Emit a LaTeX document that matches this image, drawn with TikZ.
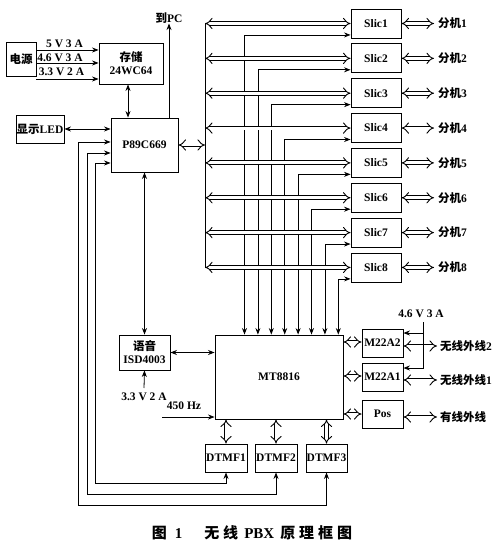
\documentclass[tikz,border=0pt]{standalone}
\usepackage{fontspec}
\setmainfont{Liberation Serif}
\newfontfamily\cjk{Noto Sans CJK SC}
\usetikzlibrary{arrows.meta,calc}
\begin{document}
\begin{tikzpicture}[x=1pt,y=-1pt,
  box/.style={draw, line width=0.9pt, inner sep=0pt, align=center, font=\bfseries\fontsize{11.5}{13}\selectfont},
  lbl/.style={inner sep=0pt, align=center, font=\bfseries\fontsize{11.5}{12}\selectfont},
  ln/.style={line width=0.8pt},
  arr/.style={ln, -{Stealth[length=6.5pt,width=5pt]}},
  both/.style={ln, {Stealth[length=6.5pt,width=5pt]}-{Stealth[length=6.5pt,width=5pt]}},
  dbl/.style={line width=0.9pt, double, double distance=3pt, {Implies[scale=1.35]}-{Implies[scale=1.35]}}]
\useasboundingbox (0,0) rectangle (500,548);
% coordinates
\coordinate (bus) at (205,0);
% boxes
\node[box, minimum width=30pt, minimum height=34pt] (dy) at (21,59) {{\cjk 电源}};
\node[box, minimum width=64pt, minimum height=41pt] (cc) at (131,63.5) {{\cjk 存储}\\24WC64};
\node[box, minimum width=48pt, minimum height=28pt] (led) at (40,129) {{\cjk 显示}LED};
\node[box, minimum width=67pt, minimum height=54pt] (p89) at (144.5,145) {P89C669};
\node[box, minimum width=51pt, minimum height=35pt] (isd) at (144.5,352.5) {{\cjk 语音}\\ISD4003};
\node[box, minimum width=128pt, minimum height=84pt] (mt) at (279,377) {MT8816};
\node[box, minimum width=41pt, minimum height=28pt] (m2) at (382.5,343) {M22A2};
\node[box, minimum width=41pt, minimum height=28pt] (m1) at (382.5,377) {M22A1};
\node[box, minimum width=41pt, minimum height=28pt] (pos) at (382.5,414) {Pos};
\node[box, minimum width=42pt, minimum height=28pt] (d1) at (226,458) {DTMF1};
\node[box, minimum width=42pt, minimum height=28pt] (d2) at (276,458) {DTMF2};
\node[box, minimum width=41pt, minimum height=28pt] (d3) at (326.5,458) {DTMF3};
% labels
\node[lbl] (l5) at (64.5,44) {5 V 3 A};
\node[lbl] (l46) at (60,57.5) {4.6 V 3 A};
\node[lbl] (l33) at (61.5,72) {3.3 V 2 A};
\node[lbl] (pc) at (169,18) {{\cjk 到}PC};
\node[lbl] (v33) at (144,397) {3.3 V 2 A};
\node[lbl] (hz) at (184,406) {450 Hz};
\node[lbl] (v46) at (421,314) {4.6 V 3 A};
\node[lbl, anchor=west] (w2) at (440,346) {{\cjk 无线外线}2};
\node[lbl, anchor=west] (w1) at (440,380) {{\cjk 无线外线}1};
\node[lbl, anchor=west] (wy) at (440,417) {{\cjk 有线外线}};
% power to storage
\draw[arr] (36,50) -- (cc.west |- 0,50);
\draw[arr] (36,63) -- (cc.west |- 0,63);
\draw[arr] (36,79) -- (cc.west |- 0,79);
% storage / P89
\draw[both] (cc.south -| 128,0) -- (p89.north -| 128,0);
\draw[arr] (p89.north -| pc) -- (pc.south);
\draw[both] (led.east) -- (led.east -| p89.west);
\draw[dbl] (p89.east) -- (p89.east -| bus);
\draw[both] (p89.south) -- (isd.north);
\draw[both] (isd.east) -- (isd.east -| mt.west);
\draw[arr] (144,388) -- (isd.south);
\draw[arr] (162,417) -- (mt.west |- 0,417);
% bus and slics
\draw[ln] (205,23.5) -- (205,267.5);
\foreach \i in {1,...,8} {
  \pgfmathsetmacro\cy{23.5+34.85*(\i-1)}
  \pgfmathsetmacro\vx{244.5+13.4*(\i-1)}
  \node[box, minimum width=50pt, minimum height=29pt] (s\i) at (376,\cy) {Slic\i};
  \node[lbl, anchor=west] (f\i) at (438,\cy) {{\cjk 分机}\i};
  \draw[dbl] (s\i.east) -- ([xshift=-4pt]f\i.west);
  \draw[dbl] (s\i.west -| bus) -- (s\i.west);
  \coordinate (v\i) at (\vx,0);
  \draw[both] (mt.north -| v\i) |- ([yshift=3.5pt]s\i.south west);
}
% MT8816 right side
\draw[dbl] (mt.east |- 0,342) -- (m2.west |- 0,342);
\draw[dbl] (mt.east |- 0,376) -- (m1.west |- 0,376);
\draw[dbl] (mt.east |- 0,414) -- (pos.west |- 0,414);
\draw[dbl] (m2.east |- 0,346) -- ([xshift=-3pt]w2.west);
\draw[dbl] (m1.east |- 0,380) -- ([xshift=-3pt]w1.west);
\draw[dbl] (pos.east |- 0,417) -- ([xshift=-3pt]wy.west);
\draw[arr] (423,322) |- (m1.east |- 0,368);
\draw[arr] (423,333) -- (m2.east |- 0,333);
% DTMF
\draw[dbl] (d1.north) -- (d1.north |- mt.south);
\draw[dbl] (d2.north) -- (d2.north |- mt.south);
\draw[dbl] (d3.north) -- (d3.north |- mt.south);
\draw[both] (p89.west |- 0,163) -| (95,483) -| (d1.south);
\draw[both] (p89.west |- 0,153) -| (87,494) -| (d2.south);
\draw[both] (p89.west |- 0,142) -| (78,505) -| (d3.south);
% caption
\node[inner sep=0pt, font=\bfseries\fontsize{15}{17}\selectfont] (cap) at (252,533)
  {{\cjk 图}\hspace{8pt}1\hspace{22pt}{\cjk 无\hspace{4pt}线}\hspace{6pt}PBX\hspace{6pt}{\cjk 原\hspace{4pt}理\hspace{4pt}框\hspace{4pt}图}};
\end{tikzpicture}
\end{document}
